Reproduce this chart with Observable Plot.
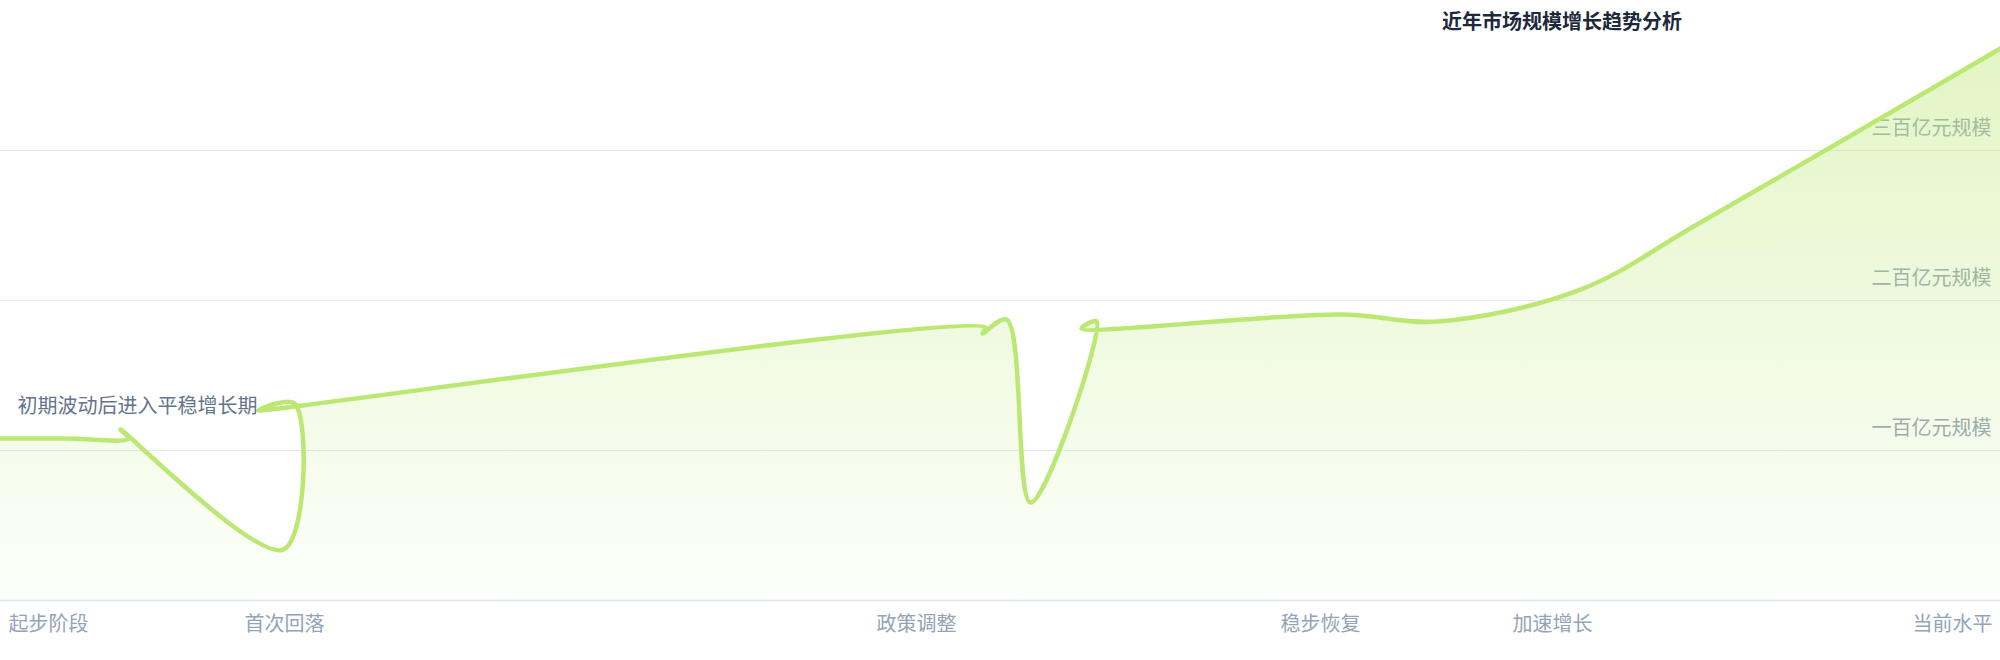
<!DOCTYPE html>
<html>
<head>
<meta charset="utf-8">
<script src="https://cdn.jsdelivr.net/npm/d3@7"></script>
<script src="https://cdn.jsdelivr.net/npm/@observablehq/plot@0.6"></script>
<style>
html, body { margin: 0; padding: 0; background: #ffffff; }
#wrap { position: relative; width: 2000px; height: 660px; font-family: "Noto Sans CJK SC", sans-serif; }
#title { position: absolute; left: 1442px; top: 11px; font-size: 20px; line-height: 20px; font-weight: 700; color: #1e293b; white-space: nowrap; z-index: 2; }
#wrap svg { position: absolute; left: 0; top: 0; }
</style>
</head>
<body>
<div id="wrap"><div id="title"></div></div>
<script>
// ---- data ----
const titleText = "近年市场规模增长趋势分析";
const annotationText = "初期波动后进入平稳增长期";
const annotationX = 0.85;
const annotationY = 129;

const seriesX = [0, 3.2, 6.4, 6.0, 14.15, 14.7, 12.9, 49.25, 49.1, 50.3, 51.5, 54.8, 54.05, 67, 71.85, 79, 85, 100];
const seriesY = [108, 108, 108, 114, 34, 131.3, 126.7, 182, 178, 187.3, 65.3, 186, 181.3, 190.7, 186, 207.3, 252, 368];

const xTicks = [2.4, 14.2, 45.8, 66, 77.6, 97.6];
const xLabels = ["起步阶段", "首次回落", "政策调整", "稳步恢复", "加速增长", "当前水平"];

const yTicks = [100, 200, 300];
const yLabels = ["一百亿元规模", "二百亿元规模", "三百亿元规模"];

// ---- build ----
const points = seriesX.map((x, i) => ({x, y: seriesY[i]}));
const lineColor = "#bbe873";

const defs = () => {
  const g = d3.create("svg:defs");
  const lg = g.append("linearGradient").attr("id", "areaGrad")
    .attr("x1", 0).attr("y1", 0).attr("x2", 0).attr("y2", 1);
  lg.append("stop").attr("offset", "0%").attr("stop-color", lineColor).attr("stop-opacity", 0.42);
  lg.append("stop").attr("offset", "100%").attr("stop-color", lineColor).attr("stop-opacity", 0.03);
  return g.node();
};

const chart = Plot.plot({
  width: 2000,
  height: 660,
  marginTop: 0,
  marginRight: 0,
  marginBottom: 60,
  marginLeft: 0,
  style: { fontFamily: "'Noto Sans CJK SC', sans-serif", background: "transparent", overflow: "visible" },
  x: { domain: [0, 100], axis: null },
  y: { domain: [0, 400], axis: null },
  marks: [
    defs,
    Plot.ruleY(yTicks, { stroke: "#e2e8f0", strokeWidth: 1 }),
    Plot.text(yTicks, {
      y: d => d,
      text: (d, i) => yLabels[i],
      frameAnchor: "right",
      textAnchor: "end",
      dx: -9,
      dy: -22,
      fontSize: 20,
      fill: "#94a3b8"
    }),
    Plot.areaY(points, { x: "x", y1: 0, y2: "y", curve: "catmull-rom", fill: "url(#areaGrad)" }),
    Plot.line(points, { x: "x", y: "y", curve: "catmull-rom", stroke: lineColor, strokeWidth: 4.5 }),
    Plot.ruleY([0], { stroke: "#e2e8f0", strokeWidth: 1.5 }),
    Plot.text(xTicks, {
      x: d => d,
      text: (d, i) => xLabels[i],
      frameAnchor: "bottom",
      dy: 30,
      fontSize: 20,
      fill: "#94a3b8"
    }),
    Plot.text([annotationText], {
      x: () => annotationX,
      y: () => annotationY,
      text: d => d,
      textAnchor: "start",
      fontSize: 20,
      fill: "#64748b"
    })
  ]
});

document.getElementById("title").textContent = titleText;
document.getElementById("wrap").appendChild(chart);
</script>
</body>
</html>
